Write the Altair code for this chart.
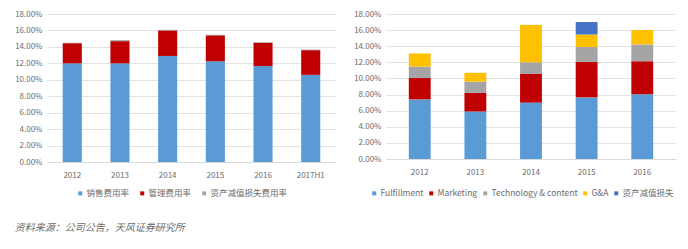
import altair as alt
import pandas as pd

# Left chart data (percent)
years_l = ["2012", "2013", "2014", "2015", "2016", "2017H1"]
sales_rate = [12.0, 12.0, 12.9, 12.25, 11.67, 10.6]
admin_rate = [2.45, 2.7, 3.1, 3.15, 2.83, 3.0]
impair_rate_l = [0.05, 0.12, 0.08, 0.08, 0.08, 0.08]
series_l = ["销售费用率", "管理费用率", "资产减值损失费用率"]
colors_l = ["#5B9BD5", "#C00000", "#A5A5A5"]

# Right chart data (percent)
years_r = ["2012", "2013", "2014", "2015", "2016"]
fulfillment = [7.4, 5.9, 7.0, 7.65, 8.05]
marketing = [2.65, 2.3, 3.55, 4.4, 4.1]
technology = [1.42, 1.4, 1.45, 1.85, 2.05]
gna = [1.63, 1.1, 4.65, 1.55, 1.8]
impair_r = [0.0, 0.0, 0.0, 1.55, 0.0]
series_r = ["Fulfillment", "Marketing", "Technology & content", "G&A", "资产减值损失"]
colors_r = ["#5B9BD5", "#C00000", "#A5A5A5", "#FFC000", "#4472C4"]

source_text = "资料来源：公司公告，天风证券研究所"

FONT = "Noto Sans CJK SC"
TXT = "#6b6b6b"

rows = []
for i, y in enumerate(years_l):
    for k, (s, vals) in enumerate(zip(series_l, [sales_rate, admin_rate, impair_rate_l])):
        rows.append({"year": y, "series": s, "value": vals[i], "order": k})
df_l = pd.DataFrame(rows)

rows = []
for i, y in enumerate(years_r):
    for k, (s, vals) in enumerate(zip(series_r, [fulfillment, marketing, technology, gna, impair_r])):
        rows.append({"year": y, "series": s, "value": vals[i], "order": k})
df_r = pd.DataFrame(rows)

yticks = [0, 2, 4, 6, 8, 10, 12, 14, 16, 18]


def make(df, years, series, colors, width, height, pi, po, lx, ly, lfs, cpad):
    return alt.Chart(df).mark_bar().encode(
        x=alt.X("year:N", sort=years,
                scale=alt.Scale(paddingInner=pi, paddingOuter=po),
                axis=alt.Axis(title=None, labelAngle=0, ticks=False,
                              domainColor="#D9D9D9", labelPadding=9)),
        y=alt.Y("value:Q", stack="zero",
                scale=alt.Scale(domain=[0, 18], nice=False),
                axis=alt.Axis(title=None, values=yticks, domain=False, ticks=False,
                              labelExpr="format(datum.value, '.2f') + '%'",
                              labelPadding=5, gridColor="#E3E3E3")),
        color=alt.Color("series:N",
                        scale=alt.Scale(domain=series, range=colors),
                        legend=alt.Legend(title=None, orient="none", direction="horizontal",
                                          legendX=lx, legendY=ly, symbolType="square",
                                          symbolSize=16, labelFontSize=lfs, labelColor=TXT,
                                          labelFont=FONT, columnPadding=cpad,
                                          symbolStrokeWidth=0, labelOffset=2)),
        order=alt.Order("order:Q"),
    ).properties(width=width, height=height)


left = make(df_l, years_l, series_l, colors_l, 289, 148, 0.6, 0.33, 29, 175, 8.5, 8)
right = make(df_r, years_r, series_r, colors_r, 290, 145, 0.607, 0.41, -16, 175, 8.5, 3)

chart = alt.hconcat(left, right, spacing=17).resolve_scale(color="independent").properties(
    title=alt.TitleParams(source_text, orient="bottom", anchor="start", fontSize=10,
                          font=FONT, fontStyle="italic", fontWeight="normal",
                          color=TXT, offset=25),
    padding={"left": 14, "top": 10, "right": 2, "bottom": 5},
).configure_view(stroke=None).configure_axis(
    labelFont=FONT, labelFontSize=8, labelColor=TXT
)

chart.save("out.html", embed_options={"renderer": "svg", "actions": False})
